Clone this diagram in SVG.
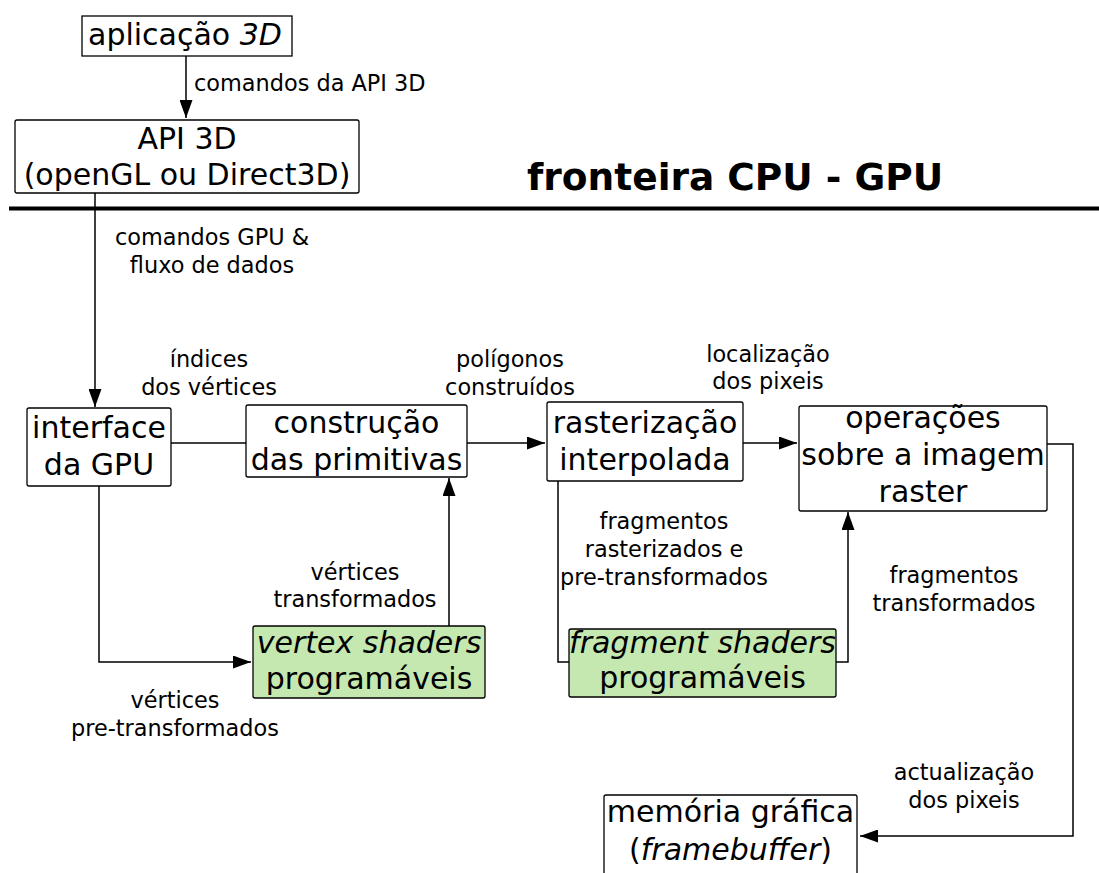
<svg xmlns="http://www.w3.org/2000/svg" width="1099" height="873" viewBox="0 0 1099 873">
  <style>
    .box { fill: #ffffff; stroke: #000000; stroke-width: 1.3; }
    .shader { fill: #c5e8b0; stroke: #000000; stroke-width: 1.3; }
    .node { font-family: "DejaVu Sans", "Liberation Sans", sans-serif; font-size: 30px; fill: #000000; text-anchor: middle; }
    .lbl { font-family: "DejaVu Sans", "Liberation Sans", sans-serif; font-size: 22.4px; fill: #000000; text-anchor: middle; }
    .title { font-family: "DejaVu Sans", "Liberation Sans", sans-serif; font-size: 37.5px; font-weight: bold; fill: #000000; }
    .wire { fill: none; stroke: #000000; stroke-width: 1.5; }
    .it { font-style: italic; }
  </style>
  <defs>
    <marker id="arrow" markerUnits="userSpaceOnUse" markerWidth="19" markerHeight="13" refX="18" refY="6.5" orient="auto">
      <path d="M0,0 L18,6.5 L0,13 Z" fill="#000000"/>
    </marker>
  </defs>

  <rect width="1099" height="873" fill="#ffffff"/>

  <!-- CPU / GPU boundary -->
  <g id="boundary">
    <line x1="9" y1="208.5" x2="1099" y2="208.5" stroke="#000000" stroke-width="4"/>
    <text class="title" x="527" y="190">fronteira CPU - GPU</text>
  </g>

  <!-- connectors -->
  <g id="connectors">
    <path class="wire" d="M186,56 V118" marker-end="url(#arrow)"/>
    <path class="wire" d="M95,193 V407" marker-end="url(#arrow)"/>
    <path class="wire" d="M171,443 H246"/>
    <path class="wire" d="M467,443 H545" marker-end="url(#arrow)"/>
    <path class="wire" d="M743,443 H797" marker-end="url(#arrow)"/>
    <path class="wire" d="M99,486 V662 H251" marker-end="url(#arrow)"/>
    <path class="wire" d="M449,626 V478" marker-end="url(#arrow)"/>
    <path class="wire" d="M558,481 V662 H569"/>
    <path class="wire" d="M836,662 H848 V512" marker-end="url(#arrow)"/>
    <path class="wire" d="M1047,444 H1073 V836 H860" marker-end="url(#arrow)"/>

    <text class="lbl" x="194" y="91" style="text-anchor:start">comandos da API 3D</text>
    <text class="lbl" x="212" y="245">comandos GPU &amp;</text>
    <text class="lbl" x="212" y="273">fluxo de dados</text>
    <text class="lbl" x="209" y="367">índices</text>
    <text class="lbl" x="209" y="395">dos vértices</text>
    <text class="lbl" x="510" y="367">polígonos</text>
    <text class="lbl" x="510" y="395">construídos</text>
    <text class="lbl" x="768" y="362">localização</text>
    <text class="lbl" x="768" y="389">dos pixeis</text>
    <text class="lbl" x="664" y="529">fragmentos</text>
    <text class="lbl" x="664" y="557">rasterizados e</text>
    <text class="lbl" x="664" y="585">pre-transformados</text>
    <text class="lbl" x="355" y="580">vértices</text>
    <text class="lbl" x="355" y="607">transformados</text>
    <text class="lbl" x="954" y="583">fragmentos</text>
    <text class="lbl" x="954" y="611">transformados</text>
    <text class="lbl" x="175" y="708">vértices</text>
    <text class="lbl" x="175" y="736">pre-transformados</text>
    <text class="lbl" x="964" y="780">actualização</text>
    <text class="lbl" x="964" y="808">dos pixeis</text>
  </g>

  <!-- nodes -->
  <g id="aplicacao">
    <rect class="box" x="82" y="16" width="210" height="40"/>
    <text class="node" x="88" y="45" style="text-anchor:start">aplicação <tspan class="it">3D</tspan></text>
  </g>

  <g id="api">
    <rect class="box" x="15" y="120" width="344" height="73" rx="2"/>
    <text class="node" x="187" y="149">API 3D</text>
    <text class="node" x="187" y="185">(openGL ou Direct3D)</text>
  </g>

  <g id="interface">
    <rect class="box" x="27" y="408" width="144" height="78" rx="2"/>
    <text class="node" x="99" y="438">interface</text>
    <text class="node" x="99" y="475">da GPU</text>
  </g>

  <g id="construcao">
    <rect class="box" x="246" y="405" width="221" height="72" rx="2"/>
    <text class="node" x="356.5" y="433">construção</text>
    <text class="node" x="356.5" y="470">das primitivas</text>
  </g>

  <g id="rasterizacao">
    <rect class="box" x="547" y="402" width="196" height="79" rx="2"/>
    <text class="node" x="645" y="433">rasterização</text>
    <text class="node" x="645" y="470">interpolada</text>
  </g>

  <g id="operacoes">
    <rect class="box" x="799" y="406" width="248" height="105" rx="2"/>
    <text class="node" x="923" y="428">operações</text>
    <text class="node" x="923" y="465">sobre a imagem</text>
    <text class="node" x="923" y="502">raster</text>
  </g>

  <g id="vertex-shaders">
    <rect class="shader" x="253" y="626" width="232" height="72" rx="2"/>
    <text class="node it" x="369" y="653">vertex shaders</text>
    <text class="node" x="369" y="689">programáveis</text>
  </g>

  <g id="fragment-shaders">
    <rect class="shader" x="569" y="629" width="267" height="68" rx="2"/>
    <text class="node it" x="702.5" y="653">fragment shaders</text>
    <text class="node" x="702.5" y="688">programáveis</text>
  </g>

  <g id="memoria">
    <rect class="box" x="604" y="795" width="253" height="90" rx="2"/>
    <text class="node" x="730.5" y="822">memória gráfica</text>
    <text class="node" x="730.5" y="860">(<tspan class="it">framebuffer</tspan>)</text>
  </g>
</svg>
